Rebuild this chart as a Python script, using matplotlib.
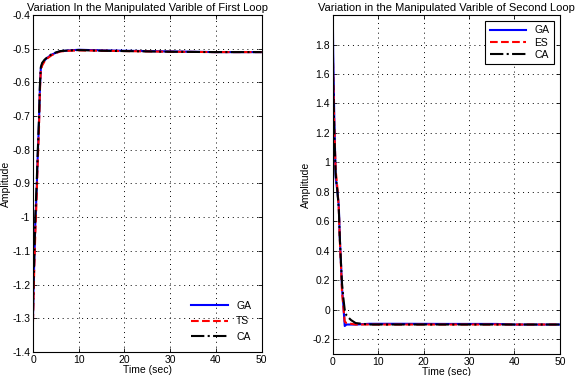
import numpy as np
import matplotlib.pyplot as plt
from matplotlib.ticker import FuncFormatter

# Primeira malha (first loop)
t1 = [0, 0.1, 0.3, 0.5, 0.8, 1.0, 1.3, 1.5, 1.7, 2.0, 2.5, 3, 4, 5, 6, 8, 10, 15, 20, 30, 40, 50]
ga1 = [-1.30, -1.22, -1.12, -1.02, -0.92, -0.83, -0.72, -0.62, -0.56, -0.545, -0.535, -0.528,
       -0.518, -0.512, -0.507, -0.505, -0.503, -0.505, -0.506, -0.508, -0.510, -0.510]
ts1 = [-1.31, -1.25, -1.14, -1.05, -0.94, -0.85, -0.74, -0.63, -0.565, -0.55, -0.538, -0.530,
       -0.520, -0.513, -0.508, -0.506, -0.505, -0.506, -0.507, -0.509, -0.510, -0.510]
ca1 = [-1.28, -1.20, -1.10, -1.00, -0.90, -0.82, -0.71, -0.61, -0.555, -0.542, -0.533, -0.527,
       -0.517, -0.511, -0.507, -0.505, -0.504, -0.506, -0.507, -0.509, -0.510, -0.510]

# Segunda malha (second loop)
t2 = [0, 0.05, 0.3, 0.6, 1.0, 1.3, 1.5, 1.8, 2.0, 2.3, 2.6, 3.0, 4, 5, 8, 15, 25, 36, 40, 50]
ga2 = [1.93, 1.75, 1.30, 0.90, 0.80, 0.70, 0.50, 0.30, 0.15, 0.03, -0.11, -0.10, -0.10, -0.10,
       -0.095, -0.095, -0.096, -0.096, -0.10, -0.10]
es2 = [1.75, 1.60, 1.25, 0.95, 0.82, 0.68, 0.48, 0.28, 0.12, 0.02, -0.08, -0.09, -0.095, -0.10,
       -0.10, -0.10, -0.10, -0.10, -0.10, -0.10]
ca2 = [1.73, 1.55, 1.20, 0.92, 0.80, 0.68, 0.50, 0.30, 0.18, 0.08, 0.00, -0.04, -0.07, -0.09,
       -0.10, -0.10, -0.10, -0.10, -0.10, -0.10]

plt.rcParams['font.family'] = 'Liberation Sans'
plt.rcParams['font.size'] = 7.5

fig = plt.figure(figsize=(5.76, 3.76), dpi=100)
ax1 = fig.add_axes([0.0573, 0.064, 0.397, 0.896])
ax2 = fig.add_axes([0.578, 0.0585, 0.394, 0.9015])

ax1.plot(t1, ga1, '-', color='blue', lw=1.5, label='GA')
ax1.plot(t1, ts1, '--', color='red', lw=1.5, label='TS')
ax1.plot(t1, ca1, '-.', color='black', lw=1.5, label='CA')
ax1.set_xlim(0, 50)
ax1.set_ylim(-1.4, -0.4)
ax1.set_yticks(np.arange(-1.4, -0.35, 0.1))
ax1.yaxis.set_major_formatter(FuncFormatter(lambda v, p: f'{round(v, 1):g}'))
ax1.set_xticks([0, 10, 20, 30, 40, 50])
ax1.set_title('Variation In the Manipulated Varible of First Loop', fontsize=8, pad=3)
ax1.set_xlabel('Time (sec)', labelpad=0)
ax1.set_ylabel('Amplitude', labelpad=1)
ax1.legend(loc='lower right', frameon=False, fontsize=7.5, handlelength=3.5,
           borderaxespad=0.6, labelspacing=0.5)

ax2.plot(t2, ga2, '-', color='blue', lw=1.5, label='GA')
ax2.plot(t2, es2, '--', color='red', lw=1.5, label='ES')
ax2.plot(t2, ca2, '-.', color='black', lw=1.5, label='CA')
ax2.set_xlim(0, 50)
ax2.set_ylim(-0.3, 2.0)
ax2.set_yticks(np.arange(-0.2, 1.85, 0.2))
ax2.yaxis.set_major_formatter(FuncFormatter(lambda v, p: f'{round(v, 1):g}'))
ax2.set_xticks([0, 10, 20, 30, 40, 50])
ax2.set_title('Variation in the Manipulated Varible of Second Loop', fontsize=8, pad=3)
ax2.set_xlabel('Time (sec)', labelpad=0)
ax2.set_ylabel('Amplitude', labelpad=1)
leg = ax2.legend(loc='upper right', fontsize=7.5, handlelength=3.5, fancybox=False,
                 borderaxespad=0.6, labelspacing=0.2, framealpha=1)
leg.get_frame().set_edgecolor('black')
leg.get_frame().set_linewidth(0.8)

for ax in (ax1, ax2):
    ax.grid(True, color='black', linestyle=(0, (1, 4)), linewidth=0.7)
    ax.tick_params(direction='in', length=3, top=True, right=True, width=0.6, pad=2)
    for s in ax.spines.values():
        s.set_linewidth(0.8)

fig.savefig('out.png', dpi=100)
